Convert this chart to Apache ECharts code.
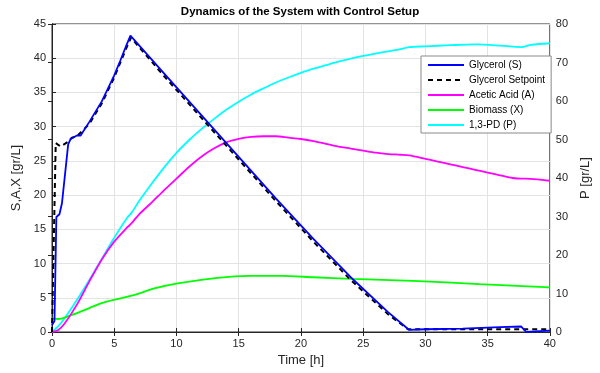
<!DOCTYPE html>
<html>
<head>
<meta charset="utf-8">
<script src="https://cdn.jsdelivr.net/npm/echarts@6/dist/echarts.min.js"></script>
<style>
html,body{margin:0;padding:0;background:#fff;}
#chart{width:600px;height:373px;}
</style>
</head>
<body>
<div id="chart"></div>
<script>
// ---- Data ----
const titleText = 'Dynamics of the System with Control Setup';
const seriesNames = ['Glycerol (S)', 'Glycerol Setpoint', 'Acetic Acid (A)', 'Biomass (X)', '1,3-PD (P)'];

const timeS = [0, 0.1, 0.2, 0.35, 0.6, 0.8, 1.3, 1.5, 2.0, 2.3, 3, 4, 5, 5.5, 6, 6.3, 9, 12, 15, 18, 21, 24, 27, 28.7, 30, 33, 36, 37.7, 38.1, 38.8, 40];
const glycerol = [1.0, 1.3, 1.6, 16.8, 17.2, 18.8, 27.4, 28.2, 28.7, 28.7, 30.7, 33.7, 37.5, 39.7, 42.0, 43.3, 37.8, 31.7, 25.6, 19.5, 13.6, 8.0, 2.9, 0.3, 0.4, 0.5, 0.7, 0.8, 0.0, 0.1, 0.2];

const timeSP = [0, 0.15, 0.3, 0.7, 1.3, 1.6, 2.0, 3, 4, 5, 6, 6.35, 9, 12, 15, 18, 21, 24, 27, 28.6, 30, 35, 40];
const setpoint = [0, 0, 27.6, 27.1, 27.8, 28.4, 28.6, 30.4, 33.4, 37.2, 41.6, 43.0, 37.4, 31.3, 25.2, 19.1, 13.2, 7.6, 2.6, 0.4, 0.4, 0.4, 0.4];

const timeA = [0, 0.5, 1, 2, 3, 4, 5, 6, 6.4, 7, 8, 9, 10, 11, 12, 13, 14, 15, 16, 17, 18, 19, 20, 21, 22, 23, 24, 25, 26, 27, 28, 28.7, 30, 31, 32, 33, 34, 35, 36, 37, 37.7, 38, 39, 40];
const acetic = [0, 0.3, 1.2, 4.0, 7.4, 10.6, 13.2, 15.2, 15.9, 17.2, 18.9, 20.7, 22.4, 24.1, 25.6, 26.8, 27.7, 28.2, 28.5, 28.6, 28.6, 28.4, 28.2, 27.9, 27.5, 27.1, 26.8, 26.5, 26.2, 26.0, 25.9, 25.8, 25.3, 24.9, 24.5, 24.1, 23.7, 23.3, 22.9, 22.5, 22.4, 22.4, 22.3, 22.1];

const timeX = [0, 0.5, 1.6, 3, 4.3, 6.4, 8.3, 10.1, 13.3, 15.7, 18.4, 21, 24.1, 29, 34.3, 39.6, 40];
const biomass = [2.0, 1.9, 2.5, 3.5, 4.4, 5.3, 6.4, 7.1, 7.9, 8.2, 8.2, 8.0, 7.75, 7.46, 7.0, 6.55, 6.5];

const timeP = [0, 0.5, 1, 2, 3, 4, 5, 6, 6.4, 7, 8, 9, 10, 11, 12, 13, 14, 15, 16, 17, 18, 19, 20, 21, 22, 23, 24, 25, 26, 27, 28, 28.7, 30, 32, 34, 36, 37.7, 38.5, 40];
const pd = [0, 1.5, 3.5, 8.3, 13.5, 19.0, 24.5, 29.5, 31, 34, 38.5, 42.7, 46.5, 49.8, 52.7, 55.3, 57.7, 59.8, 61.7, 63.3, 64.8, 66.1, 67.3, 68.4, 69.3, 70.2, 71.0, 71.7, 72.3, 72.9, 73.5, 74.0, 74.2, 74.5, 74.7, 74.4, 74.0, 74.6, 75.0];

const xTicks = {min: 0, max: 40, interval: 5};
const yLeftTicks = {min: 0, max: 45, interval: 5};
const yRightTicks = {min: 0, max: 80, interval: 10};

function pairs(t, v) { return t.map((x, i) => [x, v[i]]); }

const FONT = '"Liberation Sans", Arial, Helvetica, sans-serif';
const AX = '#262626';

const chart = echarts.init(document.getElementById('chart'), null, {renderer: 'canvas'});
const axisCommon = {
  axisLine: {show: true, lineStyle: {color: AX, width: 1}},
  axisTick: {show: true, inside: true, length: 4, lineStyle: {color: AX}},
  axisLabel: {color: AX, fontSize: 11, fontFamily: FONT, margin: 6},
  nameTextStyle: {color: AX, fontSize: 13, fontFamily: FONT}
};
const option = {
  backgroundColor: '#fff',
  animation: false,
  title: {
    text: titleText, left: 'center', top: 1,
    textStyle: {fontSize: 11.5, fontWeight: 'bold', color: '#000', fontFamily: FONT}
  },
  grid: {left: 52, right: 44, top: 24, bottom: 41, show: true, borderColor: AX, borderWidth: 1, backgroundColor: '#fff'},
  legend: {
    orient: 'vertical', left: 421, top: 56,
    backgroundColor: '#fff', borderColor: '#8a8a8a', borderWidth: 1,
    padding: [4, 6, 3, 6], itemGap: 5, itemWidth: 36, itemHeight: 11,
    itemStyle: {opacity: 0, borderWidth: 0},
    textStyle: {fontSize: 10, color: '#000', fontFamily: FONT},
    data: seriesNames
  },
  xAxis: [
    Object.assign({}, axisCommon, {
      type: 'value', min: xTicks.min, max: xTicks.max, interval: xTicks.interval,
      name: 'Time [h]', nameLocation: 'middle', nameGap: 21,
      splitLine: {show: true, lineStyle: {color: '#e3e3e3', width: 1}}
    }),
    {
      type: 'value', position: 'top', min: xTicks.min, max: xTicks.max, interval: xTicks.interval,
      axisLine: {show: true, lineStyle: {color: AX}},
      axisTick: {show: true, inside: true, length: 4, lineStyle: {color: AX}},
      axisLabel: {show: false}, splitLine: {show: false}
    }
  ],
  yAxis: [
    Object.assign({}, axisCommon, {
      type: 'value', position: 'left', min: yLeftTicks.min, max: yLeftTicks.max, interval: yLeftTicks.interval,
      name: 'S,A,X [gr/L]', nameLocation: 'middle', nameGap: 27, nameRotate: 90,
      splitLine: {show: true, lineStyle: {color: '#e3e3e3', width: 1}}
    }),
    Object.assign({}, axisCommon, {
      type: 'value', position: 'right', min: yRightTicks.min, max: yRightTicks.max, interval: yRightTicks.interval,
      name: 'P [gr/L]', nameLocation: 'middle', nameGap: 24, nameRotate: 90,
      splitLine: {show: false}
    })
  ],
  series: [
    {name: seriesNames[0], type: 'line', data: pairs(timeS, glycerol), showSymbol: false, symbol: 'none',
      lineStyle: {color: '#0000ff', width: 1.8}, itemStyle: {color: '#0000ff'}, z: 6},
    {name: seriesNames[1], type: 'line', data: pairs(timeSP, setpoint), showSymbol: false, symbol: 'none',
      lineStyle: {color: '#000', width: 2, type: [5, 4]}, itemStyle: {color: '#000'}, z: 5},
    {name: seriesNames[2], type: 'line', data: pairs(timeA, acetic), showSymbol: false, symbol: 'none', smooth: 0.3,
      lineStyle: {color: '#ff00ff', width: 1.8}, itemStyle: {color: '#ff00ff'}, z: 4},
    {name: seriesNames[3], type: 'line', data: pairs(timeX, biomass), showSymbol: false, symbol: 'none', smooth: 0.3,
      lineStyle: {color: '#00ff00', width: 1.8}, itemStyle: {color: '#00ff00'}, z: 3},
    {name: seriesNames[4], type: 'line', yAxisIndex: 1, data: pairs(timeP, pd), showSymbol: false, symbol: 'none', smooth: 0.3,
      lineStyle: {color: '#00ffff', width: 1.8}, itemStyle: {color: '#00ffff'}, z: 2}
  ]
};
chart.setOption(option);
</script>
</body>
</html>
